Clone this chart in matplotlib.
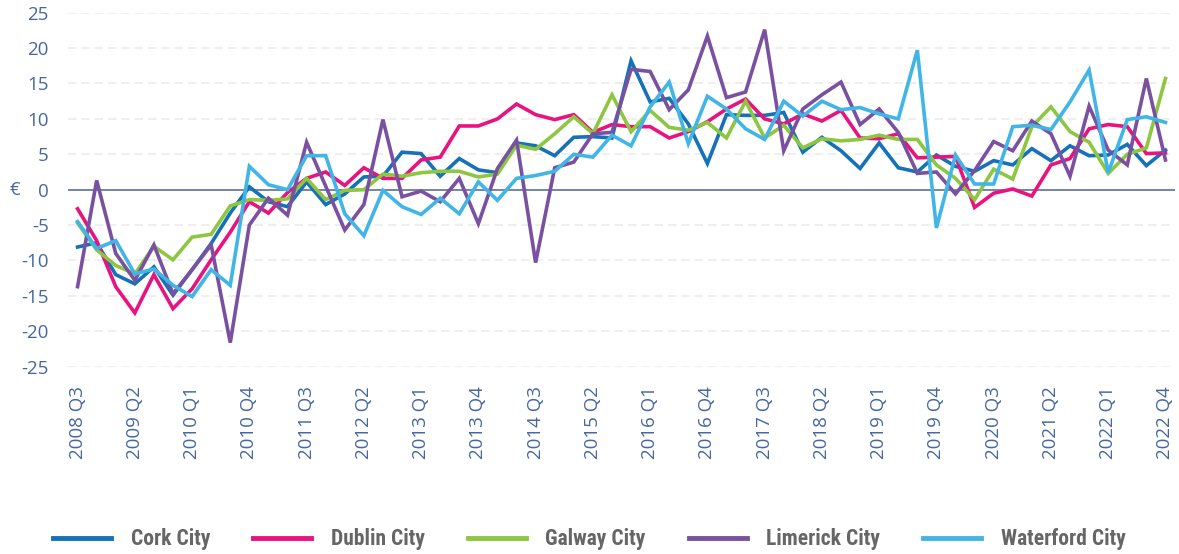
import matplotlib
matplotlib.use("Agg")
import matplotlib.pyplot as plt

plt.rcParams["axes.unicode_minus"] = False

quarters = [f"{y} Q{q}" for y in range(2008, 2023) for q in range(1, 5)][2:]

cork = [-8.1, -7.5, -12.0, -13.3, -10.9, -14.9, -11.3, -7.6, -3.3, 0.4, -1.7, -2.4,
        1.1, -2.1, -0.6, 1.8, 1.9, 5.3, 5.1, 1.9, 4.4, 2.8, 2.4, 6.6,
        6.2, 4.8, 7.4, 7.5, 7.3, 18.2, 12.4, 12.9, 9.3, 3.7, 10.6, 10.5,
        10.5, 10.9, 5.3, 7.4, 5.5, 3.0, 6.6, 3.1, 2.5, 4.9, 3.3, 2.6,
        4.1, 3.5, 5.8, 4.1, 6.2, 4.8, 4.9, 6.4, 3.4, 5.6]
dublin = [-2.7, -7.2, -13.7, -17.4, -12.0, -16.8, -14.0, -9.9, -6.0, -1.7, -3.3, -0.4,
          1.6, 2.5, 0.6, 3.1, 1.6, 1.6, 4.2, 4.6, 9.0, 9.0, 10.0, 12.1,
          10.6, 9.9, 10.6, 8.1, 9.2, 8.9, 8.9, 7.3, 8.2, 9.6, 11.4, 12.8,
          10.0, 9.3, 10.7, 9.7, 11.2, 7.3, 7.2, 7.9, 4.5, 4.6, 4.7, -2.5,
          -0.5, 0.1, -0.9, 3.5, 4.4, 8.6, 9.2, 8.9, 5.1, 5.2]
galway = [-4.7, -8.5, -10.7, -11.9, -8.0, -9.9, -6.7, -6.3, -2.3, -1.4, -1.5, -1.3,
          1.6, -1.4, -0.1, 0.0, 2.2, 1.9, 2.4, 2.6, 2.6, 1.8, 2.2, 6.3,
          5.7, 7.9, 10.3, 7.9, 13.4, 8.2, 11.2, 8.8, 8.4, 9.5, 7.3, 12.5,
          7.3, 9.1, 5.9, 7.2, 6.9, 7.1, 7.7, 7.1, 7.1, 3.5, 1.6, -1.4,
          2.9, 1.5, 8.9, 11.7, 8.2, 6.7, 2.3, 5.0, 5.9, 15.7]
limerick = [-13.7, 1.3, -9.0, -12.8, -7.8, -14.7, -11.3, -7.8, -21.6, -5.0, -1.2, -3.6,
            6.7, 0.5, -5.7, -2.1, 9.9, -1.0, -0.2, -1.7, 1.6, -4.8, 3.0, 7.0,
            -10.3, 3.1, 3.9, 7.9, 8.1, 17.0, 16.7, 11.3, 14.1, 21.7, 13.0, 13.8,
            22.6, 5.5, 11.4, 13.4, 15.2, 9.2, 11.4, 8.1, 2.3, 2.5, -0.6, 2.7,
            6.8, 5.5, 9.7, 7.9, 1.9, 11.8, 5.6, 3.5, 15.7, 4.2]
waterford = [-4.5, -8.3, -7.2, -11.9, -11.2, -13.5, -15.1, -11.3, -13.5, 3.3, 0.7, 0.0,
             4.8, 4.8, -3.4, -6.5, -0.1, -2.4, -3.5, -1.2, -3.4, 1.1, -1.5, 1.6,
             2.0, 2.6, 5.0, 4.6, 7.7, 6.2, 11.7, 15.2, 6.5, 13.2, 11.4, 8.6,
             7.1, 12.5, 10.4, 12.5, 11.3, 11.6, 10.7, 10.0, 19.7, -5.4, 4.9, 0.8,
             0.8, 8.9, 9.1, 8.5, 12.4, 16.9, 2.4, 9.9, 10.3, 9.5]

series = [("Cork City", cork, "#1571b8"),
          ("Dublin City", dublin, "#e9137f"),
          ("Galway City", galway, "#8dc641"),
          ("Limerick City", limerick, "#7a50a0"),
          ("Waterford City", waterford, "#41b5e6")]

tick_col = "#4567a0"
fig = plt.figure(figsize=(11.79, 5.54), dpi=100)
ax = fig.add_axes([0.0577, 0.3381, 0.9389, 0.639])

x = list(range(len(quarters)))
for name, vals, col in series:
    ax.plot(x, vals, color=col, lw=2.6, label=name, solid_joinstyle="miter")

ax.set_xlim(-0.5, 57.5)
ax.set_ylim(-25, 25)
ax.set_yticks(range(-25, 30, 5))
for v in range(-25, 30, 5):
    if v != 0:
        ax.axhline(v, color="#ececec", lw=1.2, ls=(0, (5, 3)), zorder=0)
ax.axhline(0, color="#5b6f96", lw=1.2, zorder=1)
for s in ax.spines.values():
    s.set_visible(False)
ax.set_xticks(x[::3])
ax.set_xticklabels(quarters[::3], rotation=90, va="top", ha="center")
ax.tick_params(axis="both", length=0, colors=tick_col, labelsize=13.5)
ax.tick_params(axis="x", pad=14)
ax.tick_params(axis="y", pad=14)
for lab in ax.get_xticklabels() + ax.get_yticklabels():
    lab.set_family("Open Sans")
    lab.set_color(tick_col)
ax.set_ylabel("€", rotation=0, color=tick_col, fontsize=13.5, family="Open Sans",
              va="center", labelpad=14)
ax.yaxis.set_label_coords(-0.048, 0.5)

leg = fig.legend(loc="lower center", bbox_to_anchor=(0.5, -0.028), ncol=5, frameon=False,
                 prop={"family": "Roboto Condensed", "weight": "bold", "size": 15.5},
                 handlelength=2.7, handletextpad=0.9, columnspacing=2.0)
for t in leg.get_texts():
    t.set_color("#666666")
for h in leg.legend_handles:
    h.set_linewidth(3.5)

fig.savefig("out.png", dpi=100)
